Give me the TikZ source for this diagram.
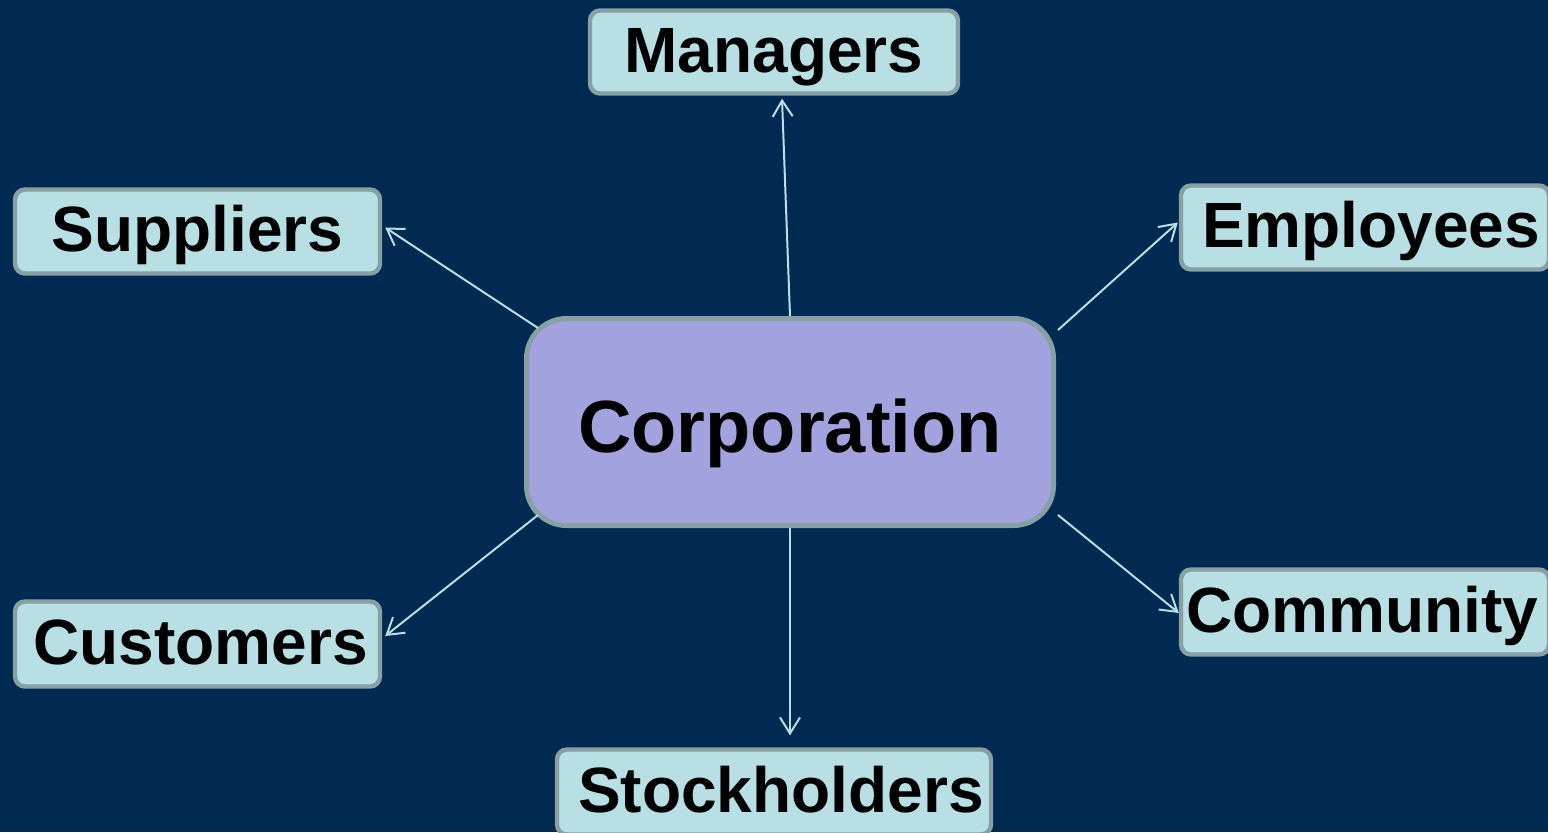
\documentclass[tikz,border=0pt]{standalone}
\usepackage{fontspec}
\setmainfont{Liberation Sans}
\usetikzlibrary{arrows.meta,calc}
\definecolor{bg}{RGB}{0,42,82}
\definecolor{boxfill}{RGB}{184,223,227}
\definecolor{boxline}{RGB}{134,160,163}
\definecolor{corpfill}{RGB}{162,162,222}
\definecolor{arrowc}{RGB}{184,223,227}
\begin{document}
\begin{tikzpicture}[x=0.5pt,y=-0.5pt,
  leaf/.style={draw=boxline, fill=boxfill, line width=2.2pt, rounded corners=5pt,
    inner sep=0pt, font=\fontsize{32}{38}\selectfont\bfseries,
    text height=25pt, text depth=5pt},
  corpbox/.style={draw=boxline, fill=corpfill, line width=2.5pt, rounded corners=20pt,
    inner sep=0pt, minimum width=263.5pt, minimum height=103.5pt,
    font=\fontsize{37}{44}\selectfont\bfseries, text height=33pt, text depth=3pt},
  conn/.style={draw=arrowc, line width=1pt, -{Straight Barb[length=8pt,width=10pt]}}]
\fill[bg] (0,0) rectangle (1548,832);
\useasboundingbox (0,0) rectangle (1548,832);

\node[corpbox] (corp) at (790,422) {Corporation};
\node[leaf, minimum width=184pt, minimum height=41.5pt] (mgr) at (774,52) {Managers};
\node[leaf, minimum width=182.5pt, minimum height=42pt] (sup) at (197.5,231.5) {Suppliers};
\node[leaf, minimum width=184pt, minimum height=42pt] (emp) at (1365,227.5) {\hspace*{6pt}Employees};
\node[leaf, minimum width=184pt, minimum height=42.5pt] (com) at (1365,612) {Community\hspace*{3pt}};
\node[leaf, minimum width=182.5pt, minimum height=42.5pt] (cust) at (197.5,644) {\hspace*{3pt}Customers};
\node[leaf, minimum width=217pt, minimum height=42.5pt] (stock) at (774,792) {\hspace*{7pt}Stockholders};

\draw[conn] (corp.north) -- ($(mgr.south)+(8,3)$);
\draw[conn] ($(corp.north west)+(14,12)$) -- ($(sup.east)+(3,-4)$);
\draw[conn] ($(corp.north east)+(2,14)$) -- ($(emp.west)+(-1,-5)$);
\draw[conn] ($(corp.south west)+(14,-13)$) -- ($(cust.east)+(3,-8)$);
\draw[conn] ($(corp.south east)+(2,-13)$) -- ($(com.west)+(0,1)$);
\draw[conn] (corp.south) -- ($(stock.north)+(16,-12)$);
\end{tikzpicture}
\end{document}
